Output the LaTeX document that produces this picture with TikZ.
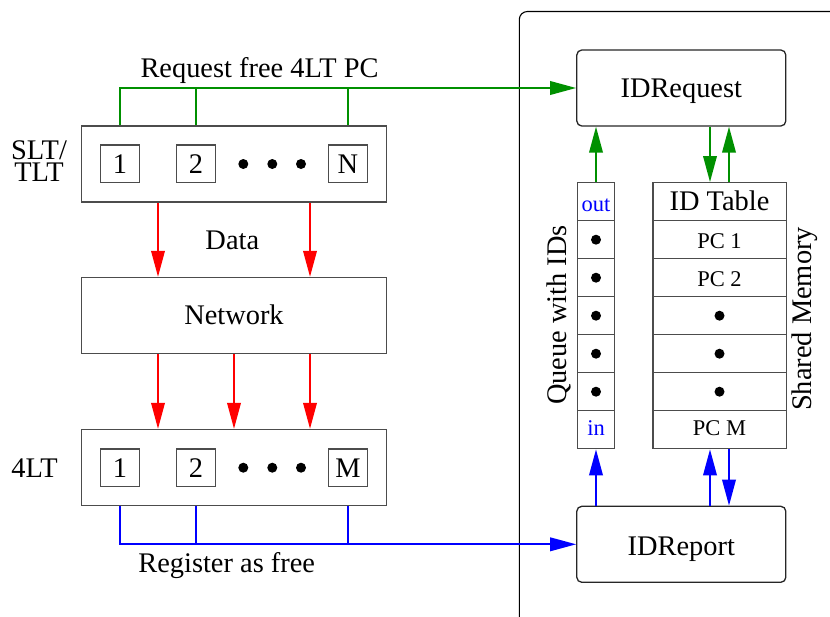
\documentclass[tikz,border=0pt]{standalone}
\usepackage{fontspec}
\setmainfont{Liberation Serif}
\usetikzlibrary{arrows.meta,calc}
\definecolor{fgreen}{RGB}{0,144,0}
\newcommand\mainsz{\fontsize{28.4}{22.5}\selectfont}
\newcommand\smallsz{\fontsize{22.5}{24}\selectfont}
\begin{document}
\begin{tikzpicture}[x=1pt,y=-1pt,
  box/.style={draw=black!70,line width=1.3pt,rectangle,inner sep=0pt,font=\mainsz,text depth=0pt},
  slotbox/.style={box,minimum width=38.5pt,minimum height=37.5pt},
  bigbox/.style={box,minimum width=305pt,minimum height=76pt,text height=18pt},
  unit/.style={box,rounded corners=5pt,draw=black!85,minimum width=209pt,minimum height=76pt,text height=19.5pt},
  qcell/.style={box,minimum width=37.6pt,minimum height=38pt,font=\smallsz,text height=18pt},
  tcell/.style={box,minimum width=133.3pt,minimum height=38pt,font=\smallsz,text height=18.5pt},
  lbl/.style={font=\mainsz,inner sep=0pt},
  tip/.style={-{Triangle[length=26pt,width=13.5pt]}},
  gline/.style={draw=fgreen,line width=2pt},
  rline/.style={draw=red,line width=2pt},
  bline/.style={draw=blue,line width=2pt},
  dotmark/.style={circle,fill=black,minimum size=10pt,inner sep=0pt}
]
\useasboundingbox (0,0) rectangle (830,616);
\clip (0,0) rectangle (830,616);

% frame of the shared memory side
\draw[line width=1.1pt,rounded corners=8pt] (519.3,640) -- (519.3,11.5) -- (850,11.5);

% sender side
\node[bigbox] (slt) at (234,164) {};
\node[slotbox] (s1) at (120,163.7) {1};
\node[slotbox] (s2) at (196,163.7) {2};
\node[slotbox] (sN) at (348,163.7) {N};
\foreach \x in {243.3,272.3,301} \node[dotmark] at (\x,164) {};
\node[lbl,align=center] (sltlab) at (39,161) {SLT/\\TLT};

\node[bigbox] (net) at (234,315.5) {Network};

\node[bigbox] (flt) at (234,467.5) {};
\node[slotbox] (f1) at (120,467.7) {1};
\node[slotbox] (f2) at (196,467.7) {2};
\node[slotbox] (fM) at (348,467.7) {M};
\foreach \x in {243.3,272.3,301} \node[dotmark] at (\x,467.7) {};
\node[lbl,anchor=base] (fltlab) at (34.5,477.7) {4LT};

% shared memory side
\node[unit] (req) at (681.3,88) {IDRequest};
\node[unit,text height=21.4pt] (rep) at (681.3,544.3) {IDReport};

\node[qcell,text=blue,text height=20pt] (q0) at (596,201.7) {out};
\foreach \i/\y in {1/239.7,2/277.7,3/315.7,4/353.7,5/391.7} {
  \node[qcell] (q\i) at (596,\y) {};
  \node[dotmark] at (q\i) {};
}
\node[qcell,text=blue,text height=12pt] (q6) at (596,429.7) {in};

\node[tcell,font=\mainsz,text height=17pt] (t0) at (719.5,201.7) {ID Table};
\node[tcell] (t1) at (719.5,239.7) {PC 1};
\node[tcell] (t2) at (719.5,277.7) {PC 2};
\foreach \i/\y in {3/315.7,4/353.7,5/391.7} {
  \node[tcell] (t\i) at (719.5,\y) {};
  \node[dotmark] at (t\i) {};
}
\node[tcell,text height=12pt] (t6) at (719.5,429.7) {PC M};

\node[lbl,rotate=90,anchor=base] (qlab) at (566.5,315) {Queue with IDs};
\node[lbl,rotate=90,anchor=base] (smlab) at (811,319) {Shared Memory};

% request path
\draw[gline,tip] (sN |- slt.north) |- (req.west);
\draw[gline] (s1 |- slt.north) |- (sN |- req.west);
\draw[gline] (s2 |- slt.north) -- (s2 |- req.west);
\node[lbl,anchor=base] (reqlab) at (259.5,77) {Request free 4LT PC};

% data path
\draw[rline,tip] ([xshift=-76pt]slt.south) -- ([xshift=-76pt]net.north);
\draw[rline,tip] ([xshift=76pt]slt.south) -- ([xshift=76pt]net.north);
\node[lbl,anchor=base] (datalab) at (232.3,249.3) {Data};
\draw[rline,tip] ([xshift=-76pt]net.south) -- ([xshift=-76pt]flt.north);
\draw[rline,tip] (net.south) -- (flt.north);
\draw[rline,tip] ([xshift=76pt]net.south) -- ([xshift=76pt]flt.north);

% register path
\draw[bline,tip] (fM |- flt.south) |- (rep.west);
\draw[bline] (f1 |- flt.south) |- (fM |- rep.west);
\draw[bline] (f2 |- flt.south) -- (f2 |- rep.west);
\node[lbl,anchor=base] (reglab) at (226.7,572) {Register as free};

% links inside the shared memory
\draw[gline,tip] (q0.north) -- (q0.north |- req.south);
\draw[gline,tip] ([xshift=-9.5pt]t0.north |- req.south) -- ([xshift=-9.5pt]t0.north);
\draw[gline,tip] ([xshift=9.5pt]t0.north) -- ([xshift=9.5pt]t0.north |- req.south);
\draw[bline,tip] (q6.south |- rep.north) -- (q6.south);
\draw[bline,tip] ([xshift=-9.5pt]t6.south |- rep.north) -- ([xshift=-9.5pt]t6.south);
\draw[bline,tip] ([xshift=9.5pt]t6.south) -- ([xshift=9.5pt]t6.south |- rep.north);
\end{tikzpicture}
\end{document}
